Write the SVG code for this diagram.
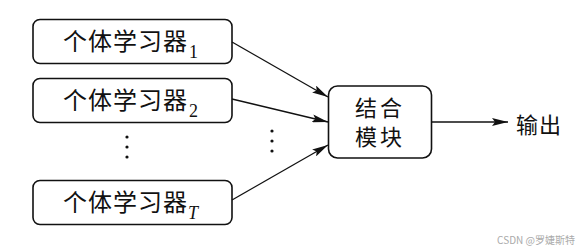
<svg xmlns="http://www.w3.org/2000/svg" width="579" height="249" viewBox="0 0 579 249">
<style>
.box{fill:#fff;stroke:#111;stroke-width:1.6}
.t{font-family:"Noto Sans CJK SC","Noto Sans",sans-serif;font-size:24px;fill:#111;letter-spacing:1px}
.m{font-family:"Noto Sans CJK SC","Noto Sans",sans-serif;font-size:22px;fill:#111;letter-spacing:3px}
.sub{font-family:"Liberation Serif",serif;font-size:18px;fill:#111}
.c line{stroke:#111;stroke-width:1.3}
.dot{fill:#111}
</style>
<defs>
<marker id="ah" markerWidth="16" markerHeight="8" refX="16" refY="4" orient="auto" markerUnits="userSpaceOnUse">
<path d="M0,0 L16,4 L0,8 L3,4 Z" fill="#111"/>
</marker>
</defs>
<rect width="579" height="249" fill="#fff"/>
<g id="learner1">
<rect class="box" x="33" y="19.5" width="199" height="44" rx="7"/>
<text class="t" x="63" y="50">个体学习器</text>
<text class="sub" x="189" y="58">1</text>
</g>
<g id="learner2">
<rect class="box" x="33" y="78.5" width="199" height="44" rx="7"/>
<text class="t" x="63" y="109">个体学习器</text>
<text class="sub" x="189" y="117">2</text>
</g>
<g id="dots-left">
<circle class="dot" cx="127" cy="137" r="1.6"/>
<circle class="dot" cx="127" cy="147" r="1.6"/>
<circle class="dot" cx="127" cy="157" r="1.6"/>
</g>
<g id="learnerT">
<rect class="box" x="33" y="180.5" width="199" height="44" rx="7"/>
<text class="t" x="63" y="211">个体学习器</text>
<text class="sub" x="188" y="219" font-style="italic">T</text>
</g>
<g id="dots-mid">
<circle class="dot" cx="272" cy="131" r="1.6"/>
<circle class="dot" cx="272" cy="141" r="1.6"/>
<circle class="dot" cx="272" cy="151" r="1.6"/>
</g>
<g id="combine">
<rect class="box" x="328.5" y="86" width="103" height="72" rx="9"/>
<text class="m" x="355" y="115.5">结合</text>
<text class="m" x="355" y="144.5">模块</text>
</g>
<g id="output">
<text class="m" x="516" y="133" style="letter-spacing:1px">输出</text>
</g>
<g class="c" id="connectors">
<line x1="232" y1="42" x2="328" y2="97" marker-end="url(#ah)"/>
<line x1="232" y1="99" x2="328" y2="122" marker-end="url(#ah)"/>
<line x1="232" y1="200" x2="328" y2="145" marker-end="url(#ah)"/>
<line x1="432" y1="122" x2="508" y2="122" marker-end="url(#ah)"/>
</g>
<text x="575" y="244" text-anchor="end" font-family="'Noto Sans CJK SC',sans-serif" font-size="10" fill="#aaa">CSDN @罗婕斯特</text>
</svg>
